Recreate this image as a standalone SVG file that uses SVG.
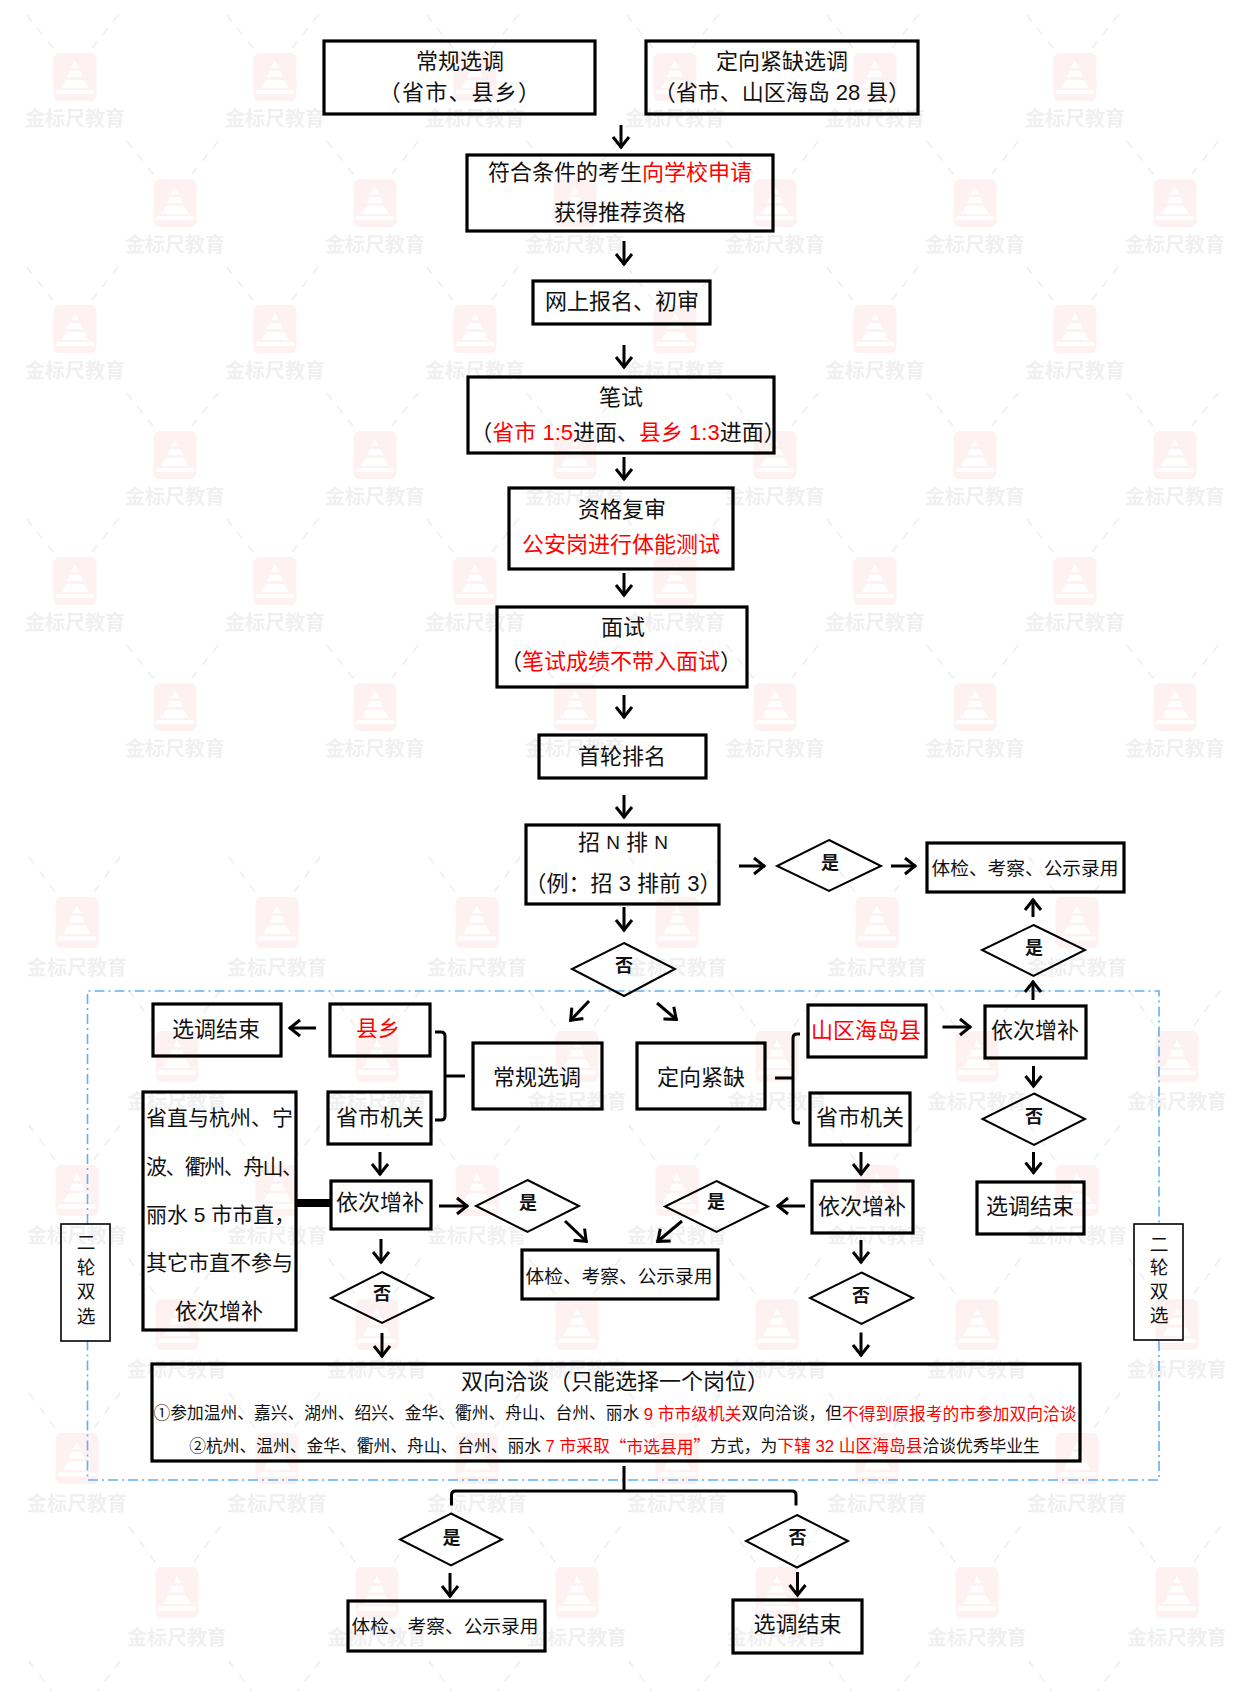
<svg xmlns="http://www.w3.org/2000/svg" width="1249" height="1691" viewBox="0 0 1249 1691">
<style>
text{font-family:"Liberation Sans","Noto Sans CJK SC",sans-serif;font-size:22px;fill:#111;text-anchor:middle;dominant-baseline:central;transform:translateY(-1px)}
.r{fill:#f00}
.box{fill:none;stroke:#000;stroke-width:3.2}
.thin{fill:none;stroke:#000;stroke-width:1.6}
.dia{fill:none;stroke:#000;stroke-width:2}
.s{font-size:18.7px}
.d{font-size:18px;font-weight:700}
.m{font-size:16.75px}
.q{font-family:"Noto Sans CJK SC",sans-serif}
.n{font-size:19px}
.w{letter-spacing:1.2px}
.l{text-anchor:start;font-size:21px}
.a{fill:none;stroke:#000;stroke-width:3;marker-end:url(#ah)}
.c{fill:none;stroke:#000;stroke-width:3}
.dash{fill:none;stroke:#62b0f2;stroke-width:1.6;stroke-dasharray:10 4 2 4}
.wt{font-size:20px;font-weight:700;fill:#f0f0f0}
.wl{stroke:#eee;stroke-width:1.6;stroke-dasharray:8 9;fill:none}
</style>
<defs>
<marker id="ah" markerUnits="userSpaceOnUse" markerWidth="24" markerHeight="24" refX="12" refY="12" orient="auto">
<path d="M1,4 L11,12 L1,20" fill="none" stroke="#000" stroke-width="3"/>
</marker>
<g id="wm">
<path class="wl" d="M-22,-5 L-53,-44 M17,-5 L48,-44"/>
<rect x="-21.5" y="0" width="43" height="48" rx="6" fill="#fdf1f1"/>
<path fill="#fff" d="M0,8 L4,15 H-4Z M-5,18 H5 L8,24 H-8Z M-9,27 H9 L14,35 H-14Z M-18,37 H18 L20,41 H-20Z"/>
</g>
<pattern id="wu" patternUnits="userSpaceOnUse" x="23" y="10" width="200" height="252">
<use href="#wm" x="52" y="43"/><text class="wt" x="52" y="109.5">金标尺教育</text>
<use href="#wm" x="152" y="169"/><text class="wt" x="152" y="235.5">金标尺教育</text>
</pattern>
<pattern id="wd" patternUnits="userSpaceOnUse" x="25" y="847" width="200" height="268">
<use href="#wm" transform="translate(52,50) scale(1,1.06)"/><text class="wt" x="52" y="121.5">金标尺教育</text>
<use href="#wm" transform="translate(152,184) scale(1,1.06)"/><text class="wt" x="152" y="255.5">金标尺教育</text>
</pattern>
</defs>
<rect width="1249" height="1691" fill="#fff"/>
<g id="watermark">
<rect x="23" y="10" width="1200" height="756" fill="url(#wu)"/>
<rect x="25" y="847" width="1200" height="844" fill="url(#wd)"/>
</g>
<g id="connectors">
<path class="dash" d="M87.500,1224 V991 H1159 V1224 M1159,1341 V1480 H87.500 V1341"/>
<path class="a" d="M621,125V148"/>
<path class="a" d="M624,241V265"/>
<path class="a" d="M624,345V368"/>
<path class="a" d="M624,457V480"/>
<path class="a" d="M624,573V596"/>
<path class="a" d="M624,695V718"/>
<path class="a" d="M624,795V818"/>
<path class="a" d="M624,907V931"/>
<path class="a" d="M739,866H765"/>
<path class="a" d="M891,866H916"/>
<path class="a" d="M1033,917V899"/>
<path class="a" d="M1033,1000V981"/>
<path class="a" d="M589,1001L570,1021"/>
<path class="a" d="M657,1003L677,1020"/>
<path class="a" d="M316,1028H289"/>
<path class="c" d="M435,1032H441Q445,1032 445,1036V1116Q445,1120 441,1120H435M445,1076H465"/>
<path class="c" d="M800,1034H797Q793,1034 793,1038V1119Q793,1123 797,1123H800M775,1078H793"/>
<path class="a" d="M942.500,1027H971"/>
<path class="a" d="M1033.500,1066V1087"/>
<path class="a" d="M1033.500,1152V1173.500"/>
<path class="a" d="M380,1152V1175"/>
<path class="a" d="M861,1152V1175"/>
<path d="M296,1203H331" fill="none" stroke="#000" stroke-width="8"/>
<path class="a" d="M439,1206H468"/>
<path class="a" d="M805,1206H777"/>
<path class="a" d="M565,1221L587,1242"/>
<path class="a" d="M682,1221L657,1242"/>
<path class="a" d="M381,1239V1263"/>
<path class="a" d="M861,1240V1263"/>
<path class="a" d="M382,1333V1357"/>
<path class="a" d="M861,1332.500V1356"/>
<path class="c" d="M624,1466V1491M451.500,1505.500V1495Q451.500,1491 455.500,1491H792Q796,1491 796,1495V1505.500"/>
<path class="a" d="M450,1573V1597"/>
<path class="a" d="M797.500,1572V1596"/>
</g>
<g id="n1"><rect class="box" x="324" y="41" width="271" height="73"/><text x="460" y="62">常规选调</text><text class="w" x="460" y="93">（省市、县乡）</text></g>
<g id="n2"><rect class="box" x="646" y="41" width="272" height="73"/><text x="782" y="62">定向紧缺选调</text><text x="782" y="93">（省市、山区海岛 28 县）</text></g>
<g id="n3"><rect class="box" x="467" y="155" width="306" height="76"/><text x="620" y="173">符合条件的考生<tspan class="r">向学校申请</tspan></text><text x="620" y="213">获得推荐资格</text></g>
<g id="n4"><rect class="box" x="533" y="281" width="177" height="43"/><text x="622" y="302">网上报名、初审</text></g>
<g id="n5"><rect class="box" x="468" y="377" width="306" height="76"/><text x="621" y="398">笔试</text><text x="628" y="433">（<tspan class="r">省市 1:5</tspan>进面、<tspan class="r">县乡 1:3</tspan>进面）</text></g>
<g id="n6"><rect class="box" x="509" y="488" width="224" height="81"/><text x="622" y="510">资格复审</text><text class="r" x="621" y="545">公安岗进行体能测试</text></g>
<g id="n7"><rect class="box" x="497" y="607" width="250" height="80"/><text x="623" y="628">面试</text><text x="621" y="662">（<tspan class="r">笔试成绩不带入面试</tspan>）</text></g>
<g id="n8"><rect class="box" x="539" y="735" width="167" height="43"/><text x="622" y="757">首轮排名</text></g>
<g id="n9"><rect class="box" x="526" y="825" width="193" height="79"/><text x="623" y="843">招 <tspan class="n">N</tspan> 排 <tspan class="n">N</tspan></text><text x="623" y="884">（例：招 3 排前 3）</text></g>
<g id="d1"><path class="dia" d="M829,840L881,866L829,891L777,866Z"/><text class="d" x="830" y="864">是</text></g>
<g id="n10"><rect class="box" x="927" y="843" width="197" height="49"/><text class="s" x="1025" y="869">体检、考察、公示录用</text></g>
<g id="d2"><path class="dia" d="M1033.500,925L1085,950L1033.500,976L982,950Z"/><text class="d" x="1034" y="949">是</text></g>
<g id="d3"><path class="dia" d="M624,943L675,969L624,996L572,969Z"/><text class="d" x="624" y="967">否</text></g>
<g id="n11"><rect class="box" x="153" y="1004" width="128" height="52"/><text x="216" y="1030">选调结束</text></g>
<g id="n12"><rect class="box" x="330" y="1004" width="100" height="52"/><text class="r" x="378" y="1029">县乡</text></g>
<g id="n13"><rect class="box" x="473" y="1043" width="129" height="66"/><text x="537" y="1078">常规选调</text></g>
<g id="n14"><rect class="box" x="637" y="1043" width="128" height="66"/><text x="701" y="1078">定向紧缺</text></g>
<g id="n15"><rect class="box" x="808" y="1005" width="118" height="52"/><text class="r" x="866" y="1031">山区海岛县</text></g>
<g id="n16"><rect class="box" x="985" y="1006" width="101" height="52"/><text x="1035" y="1031">依次增补</text></g>
<g id="n17"><rect class="box" x="328" y="1092" width="103" height="52"/><text x="380" y="1118">省市机关</text></g>
<g id="n18"><rect class="box" x="810" y="1093" width="100" height="52"/><text x="860" y="1118">省市机关</text></g>
<g id="d4"><path class="dia" d="M1034,1093.500L1085,1119L1034,1145L982.500,1119Z"/><text class="d" x="1034" y="1118">否</text></g>
<g id="n19"><rect class="box" x="143" y="1092" width="153" height="238"/><text class="l" x="146" y="1118">省直与杭州、宁</text><text class="l" x="146" y="1167" textLength="157" lengthAdjust="spacing">波、衢州、舟山、</text><text class="l" x="146" y="1215">丽水 5 市市直，</text><text class="l" x="146" y="1263">其它市直不参与</text><text x="219" y="1312">依次增补</text></g>
<g id="n20"><rect class="box" x="331" y="1181" width="100" height="48"/><text x="380" y="1203">依次增补</text></g>
<g id="n21"><rect class="box" x="812" y="1181" width="101" height="52"/><text x="862" y="1207">依次增补</text></g>
<g id="n22"><rect class="box" x="977" y="1182" width="107" height="52"/><text x="1030" y="1207">选调结束</text></g>
<g id="d5"><path class="dia" d="M527.500,1180L579,1206L527.500,1232L476,1206Z"/><text class="d" x="528" y="1204">是</text></g>
<g id="d6"><path class="dia" d="M716.500,1181L768,1206.500L716.500,1232L665,1206.500Z"/><text class="d" x="716" y="1203">是</text></g>
<g id="n23"><rect class="box" x="522" y="1250" width="196" height="49"/><text class="s" x="619" y="1277">体检、考察、公示录用</text></g>
<g id="d7"><path class="dia" d="M382,1272L433,1298L382,1323L331,1298Z"/><text class="d" x="382" y="1295">否</text></g>
<g id="d8"><path class="dia" d="M861.500,1272.500L913,1298L861.500,1324L810,1298Z"/><text class="d" x="861" y="1297">否</text></g>
<g id="n24"><rect class="thin" x="61" y="1224" width="49" height="117"/><text class="s" x="86" y="1243">二</text><text class="s" x="86" y="1268">轮</text><text class="s" x="86" y="1292">双</text><text class="s" x="86" y="1317">选</text></g>
<g id="n25"><rect class="thin" x="1134" y="1224" width="49" height="116"/><text class="s" x="1159" y="1245">二</text><text class="s" x="1159" y="1268">轮</text><text class="s" x="1159" y="1292">双</text><text class="s" x="1159" y="1316">选</text></g>
<g id="n26"><rect class="box" x="152" y="1364" width="928" height="97"/><text x="615" y="1382">双向洽谈（只能选择一个岗位）</text><text class="m" x="615" y="1414.500">①参加温州、嘉兴、湖州、绍兴、金华、衢州、舟山、台州、丽水 <tspan class="r">9 市市级机关</tspan>双向洽谈，但<tspan class="r">不得到原报考的市参加双向洽谈</tspan></text><text class="m" x="614.500" y="1447">②杭州、温州、金华、衢州、舟山、台州、丽水 <tspan class="r">7 市采取<tspan class="q">“市选县用”</tspan></tspan>方式，为<tspan class="r">下辖 32 山区海岛县</tspan>洽谈优秀毕业生</text></g>
<g id="d9"><path class="dia" d="M451,1513.500L502,1539.500L451,1565.500L400,1539.500Z"/><text class="d" x="451.500" y="1538.500">是</text></g>
<g id="d10"><path class="dia" d="M797,1515L848,1541L797,1567.500L746,1541Z"/><text class="d" x="797.500" y="1538.500">否</text></g>
<g id="n27"><rect class="box" x="348" y="1601" width="197" height="50"/><text class="s" x="445" y="1627">体检、考察、公示录用</text></g>
<g id="n28"><rect class="box" x="733" y="1600" width="129" height="53"/><text x="797.500" y="1625">选调结束</text></g>
</svg>
